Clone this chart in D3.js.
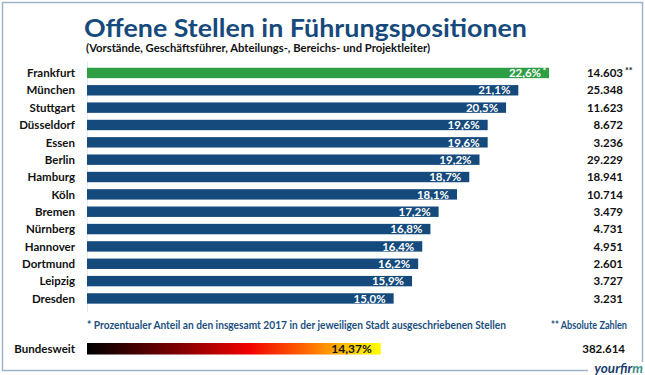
<!DOCTYPE html>
<html>
<head>
<meta charset="utf-8">
<script src="https://cdn.jsdelivr.net/npm/d3@7"></script>
<style>
  body { margin: 0; background: #fff; }
  text { font-family: Lato, "Open Sans", sans-serif; }
</style>
</head>
<body>
<script>
// data
var cities = ["Frankfurt", "München", "Stuttgart", "Düsseldorf", "Essen", "Berlin", "Hamburg",
              "Köln", "Bremen", "Nürnberg", "Hannover", "Dortmund", "Leipzig", "Dresden"];
var shares = [22.6, 21.1, 20.5, 19.6, 19.6, 19.2, 18.7, 18.1, 17.2, 16.8, 16.4, 16.2, 15.9, 15.0];
var absolute = [14603, 25348, 11623, 8672, 3236, 29229, 18941, 10714, 3479, 4731, 4951, 2601, 3727, 3231];
var nationalLabel = "Bundesweit";
var nationalShare = 14.37;
var nationalAbsolute = 382614;

var de = d3.formatLocale({ decimal: ",", thousands: ".", grouping: [3], currency: ["", " €"] });
var fmtPct1 = de.format(".1f");
var fmtPct2 = de.format(".2f");
var fmtInt = de.format(",d");

var width = 645, height = 375;

var svg = d3.select("body").append("svg")
    .attr("width", width)
    .attr("height", height);

// frame
svg.append("rect")
    .attr("x", 2.5).attr("y", 2.5)
    .attr("width", 640).attr("height", 368)
    .attr("fill", "#fff")
    .attr("stroke", "#9fb3c8")
    .attr("stroke-width", 1.5);

// scales
var x = d3.scaleLinear().domain([0, 22.6]).range([87, 549]);
var y = d3.scaleBand().domain(cities).range([60.8, 310.6]).paddingInner(0.4).paddingOuter(0.4);

// title
svg.append("text")
    .attr("x", 84).attr("y", 37)
    .attr("textLength", 443).attr("lengthAdjust", "spacingAndGlyphs")
    .attr("font-size", 24).attr("font-weight", "bold")
    .attr("fill", "#174a7c")
    .text("Offene Stellen in Führungspositionen");

svg.append("text")
    .attr("x", 86).attr("y", 51.5)
    .attr("textLength", 344).attr("lengthAdjust", "spacingAndGlyphs")
    .attr("font-size", 11.5).attr("font-weight", "bold")
    .attr("fill", "#111")
    .text("(Vorstände, Geschäftsführer, Abteilungs-, Bereichs- und Projektleiter)");

// faint axis line
svg.append("line")
    .attr("x1", 87.5).attr("x2", 87.5)
    .attr("y1", 62).attr("y2", 312)
    .attr("stroke", "#e3ebf2").attr("stroke-width", 1);

var rows = svg.selectAll("g.row")
    .data(cities)
    .enter().append("g")
    .attr("class", "row");

rows.append("rect")
    .attr("x", x(0))
    .attr("y", function(d) { return y(d); })
    .attr("width", function(d, i) { return x(shares[i]) - x(0); })
    .attr("height", y.bandwidth())
    .attr("fill", function(d, i) { return i == 0 ? "#2f9f45" : "#154a7c"; });

rows.append("text")
    .attr("x", 75)
    .attr("y", function(d) { return y(d) + y.bandwidth() / 2 + 4.2; })
    .attr("text-anchor", "end")
    .attr("font-size", 11.5).attr("font-weight", "bold")
    .attr("fill", "#111")
    .text(function(d) { return d; });

// percentage labels inside bars
rows.append("text")
    .attr("x", function(d, i) { return x(shares[i]) - 8; })
    .attr("y", function(d) { return y(d) + y.bandwidth() / 2 + 4.2; })
    .attr("text-anchor", "end")
    .attr("font-size", 11.5).attr("font-weight", "bold")
    .attr("fill", "#fff")
    .text(function(d, i) { return fmtPct1(shares[i]) + "%"; });

// absolute numbers
rows.append("text")
    .attr("x", 623)
    .attr("y", function(d) { return y(d) + y.bandwidth() / 2 + 4.2; })
    .attr("text-anchor", "end")
    .attr("font-size", 11.5).attr("font-weight", "bold")
    .attr("fill", "#111")
    .text(function(d, i) { return fmtInt(absolute[i]); });

// asterisks on first row
var fy = y(cities[0]) + y.bandwidth() / 2;
svg.append("text")
    .attr("x", x(shares[0]) - 6.5).attr("y", fy + 1.5)
    .attr("font-size", 9).attr("font-weight", "bold").attr("fill", "#fff")
    .text("*");
svg.append("text")
    .attr("x", 625).attr("y", fy + 1.5)
    .attr("font-size", 9).attr("font-weight", "bold").attr("fill", "#111")
    .text("**");

// footnotes
svg.append("text")
    .attr("x", 87).attr("y", 329)
    .attr("textLength", 419).attr("lengthAdjust", "spacingAndGlyphs")
    .attr("font-size", 11).attr("font-weight", "bold")
    .attr("fill", "#1b4f80")
    .text("* Prozentualer Anteil an den insgesamt 2017 in der jeweiligen Stadt ausgeschriebenen Stellen");
svg.append("text")
    .attr("x", 551).attr("y", 329)
    .attr("textLength", 76).attr("lengthAdjust", "spacingAndGlyphs")
    .attr("font-size", 11).attr("font-weight", "bold")
    .attr("fill", "#1b4f80")
    .text("** Absolute Zahlen");

// national bar
var grad = svg.append("defs").append("linearGradient")
    .attr("id", "heat").attr("x1", "0%").attr("x2", "100%");
[["0%", "#000000"], ["30%", "#7a0000"], ["55%", "#f00000"], ["75%", "#ff6a00"], ["92%", "#ffd800"], ["100%", "#ffff00"]]
  .forEach(function(s) { grad.append("stop").attr("offset", s[0]).attr("stop-color", s[1]); });

svg.append("rect")
    .attr("x", x(0)).attr("y", 343)
    .attr("width", x(nationalShare) - x(0)).attr("height", 11.5)
    .attr("fill", "url(#heat)");

svg.append("text")
    .attr("x", 75).attr("y", 353)
    .attr("text-anchor", "end")
    .attr("font-size", 11.5).attr("font-weight", "bold").attr("fill", "#111")
    .text(nationalLabel);

svg.append("text")
    .attr("x", x(nationalShare) - 9).attr("y", 353)
    .attr("text-anchor", "end")
    .attr("font-size", 12).attr("font-weight", "bold").attr("fill", "#111")
    .text(fmtPct2(nationalShare) + "%");

svg.append("text")
    .attr("x", 625).attr("y", 353)
    .attr("text-anchor", "end")
    .attr("font-size", 11.5).attr("font-weight", "bold").attr("fill", "#111")
    .text(fmtInt(nationalAbsolute));

// logo
svg.append("rect")
    .attr("x", 588).attr("y", 362).attr("width", 57).attr("height", 13)
    .attr("fill", "#fff");
var logo = svg.append("text")
    .attr("x", 643).attr("y", 372.5)
    .attr("text-anchor", "end")
    .attr("font-size", 13.5).attr("font-weight", "bold").attr("font-style", "italic")
    .attr("fill", "#1b3f6e");
logo.append("tspan").text("yourfir");
logo.append("tspan").attr("fill", "#3a8f8a").text("m");
</script>
</body>
</html>
